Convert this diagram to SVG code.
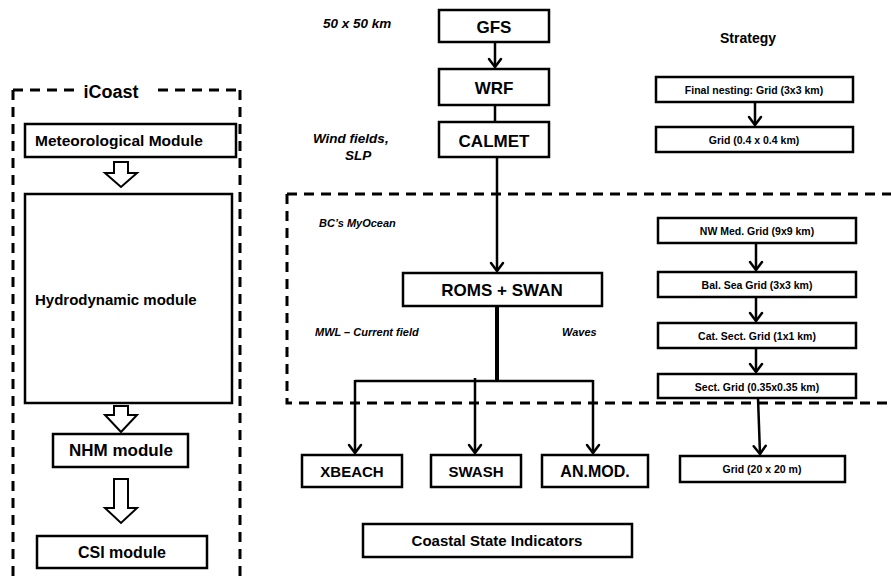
<svg xmlns="http://www.w3.org/2000/svg" width="891" height="582" viewBox="0 0 891 582">
<style>
.box{fill:#fff;stroke:#000;stroke-width:2.5}
.t{font-family:"Liberation Sans",Arial,sans-serif;font-weight:bold;fill:#000}
.c{text-anchor:middle}
.it{font-family:"Liberation Sans",Arial,sans-serif;font-weight:bold;font-style:italic;fill:#000}
.dash{fill:none;stroke:#000;stroke-width:3;stroke-dasharray:10 7}
.con{fill:none;stroke:#000;stroke-width:2.5}
.hol{fill:#fff;stroke:#000;stroke-width:2;stroke-linejoin:miter}
</style>
<defs>
<marker id="arr" viewBox="-11 -8 13 16" refX="0" refY="0" markerWidth="13" markerHeight="16" markerUnits="userSpaceOnUse" orient="auto">
<path d="M-8,-6 L0,0 L-8,6" fill="none" stroke="#000" stroke-width="2.5" stroke-linejoin="round" stroke-linecap="round"/>
</marker>
</defs>

<!-- iCoast frame -->
<g id="icoast-frame">
<path class="dash" d="M13,90 L74,90 M158,90 L240,90 M13,90 L13,582 M240,90 L240,582"/>
<text class="t c" x="111" y="98" font-size="18">iCoast</text>
</g>

<!-- Nesting dashed frame -->
<g id="nesting-frame">
<path class="dash" d="M287,194 L891,194 M287,194 L287,403 L891,403"/>
</g>

<!-- Left column -->
<g id="met-module">
<rect class="box" x="25" y="124" width="211" height="33"/>
<text class="t" x="35" y="146" font-size="15.5">Meteorological Module</text>
</g>
<g id="hydro-module">
<rect class="box" x="25" y="194" width="207" height="209"/>
<text class="t" x="35" y="305" font-size="15">Hydrodynamic module</text>
</g>
<g id="nhm-module">
<rect class="box" x="53" y="434" width="135" height="33"/>
<text class="t c" x="121" y="456" font-size="17">NHM module</text>
</g>
<g id="csi-module">
<rect class="box" x="37" y="536" width="170" height="32"/>
<text class="t c" x="122" y="558" font-size="16">CSI module</text>
</g>

<!-- Middle column -->
<g id="gfs">
<rect class="box" x="439" y="10" width="110" height="32"/>
<text class="t c" x="494" y="33" font-size="17">GFS</text>
</g>
<g id="wrf">
<rect class="box" x="439" y="69" width="110" height="36"/>
<text class="t c" x="494" y="94" font-size="17">WRF</text>
</g>
<g id="calmet">
<rect class="box" x="439" y="122" width="110" height="35"/>
<text class="t c" x="494" y="147" font-size="17">CALMET</text>
</g>
<g id="roms-swan">
<rect class="box" x="403" y="273" width="199" height="33"/>
<text class="t c" x="502" y="296" font-size="17">ROMS + SWAN</text>
</g>
<g id="xbeach">
<rect class="box" x="302" y="455" width="100" height="32"/>
<text class="t c" x="352" y="477" font-size="15">XBEACH</text>
</g>
<g id="swash">
<rect class="box" x="431" y="455" width="90" height="32"/>
<text class="t c" x="476" y="477" font-size="15">SWASH</text>
</g>
<g id="anmod">
<rect class="box" x="542" y="455" width="106" height="32"/>
<text class="t c" x="595" y="477" font-size="16">AN.MOD.</text>
</g>
<g id="csi">
<rect class="box" x="363" y="524" width="269" height="33"/>
<text class="t c" x="497" y="546" font-size="15">Coastal State Indicators</text>
</g>

<!-- Right column -->
<g id="strategy">
<text class="t c" x="748" y="43" font-size="14">Strategy</text>
</g>
<g id="final-nesting">
<rect class="box" x="656" y="77" width="197" height="25"/>
<text class="t c" x="754" y="94" font-size="10.5">Final nesting:  Grid (3x3 km)</text>
</g>
<g id="grid-04">
<rect class="box" x="656" y="127" width="197" height="25"/>
<text class="t c" x="754" y="144" font-size="10.5">Grid (0.4 x 0.4 km)</text>
</g>
<g id="nw-med">
<rect class="box" x="658" y="218" width="198" height="25"/>
<text class="t c" x="757" y="235" font-size="10.5">NW Med. Grid (9x9 km)</text>
</g>
<g id="bal-sea">
<rect class="box" x="658" y="272" width="198" height="25"/>
<text class="t c" x="757" y="289" font-size="10.5">Bal. Sea Grid (3x3 km)</text>
</g>
<g id="cat-sect">
<rect class="box" x="658" y="323" width="198" height="25"/>
<text class="t c" x="757" y="340" font-size="10.5">Cat. Sect. Grid (1x1 km)</text>
</g>
<g id="sect-grid">
<rect class="box" x="658" y="374" width="198" height="24"/>
<text class="t c" x="757" y="391" font-size="10.5">Sect. Grid (0.35x0.35 km)</text>
</g>
<g id="grid-20">
<rect class="box" x="680" y="456" width="165" height="26"/>
<text class="t c" x="762" y="473" font-size="10.5">Grid (20 x 20 m)</text>
</g>

<!-- Labels -->
<g id="labels">
<text class="it" x="323" y="28" font-size="13.5">50 x 50 km</text>
<text class="it" x="313" y="143" font-size="13.5">Wind fields,</text>
<text class="it" x="345" y="160" font-size="13.5">SLP</text>
<text class="it" x="319" y="227" font-size="11">BC’s MyOcean</text>
<text class="it" x="315" y="336" font-size="11">MWL – Current field</text>
<text class="it" x="562" y="336" font-size="11">Waves</text>
</g>

<!-- Connectors -->
<g id="connectors">
<polygon class="hol" points="114,162 128,162 128,173 137,173 121,187 105,173 114,173"/>
<polygon class="hol" points="114,406 128,406 128,415 137,415 121,432 105,415 114,415"/>
<polygon class="hol" points="114,479 128,479 128,508 137,508 121,523 105,508 114,508"/>
<line class="con" x1="495" y1="42" x2="495" y2="67" marker-end="url(#arr)"/>
<line class="con" x1="495" y1="105" x2="495" y2="122"/>
<line class="con" x1="497" y1="157" x2="497" y2="271" marker-end="url(#arr)"/>
<line x1="497" y1="306" x2="497" y2="382" stroke="#000" stroke-width="4"/>
<line class="con" x1="355" y1="381" x2="593" y2="381"/>
<line class="con" x1="355" y1="380" x2="355" y2="453" marker-end="url(#arr)"/>
<line class="con" x1="475" y1="378" x2="475" y2="453" marker-end="url(#arr)"/>
<line class="con" x1="593" y1="380" x2="593" y2="453" marker-end="url(#arr)"/>
<line class="con" x1="755" y1="102" x2="755" y2="125" marker-end="url(#arr)"/>
<line class="con" x1="756" y1="243" x2="756" y2="270" marker-end="url(#arr)"/>
<line class="con" x1="756" y1="297" x2="756" y2="321" marker-end="url(#arr)"/>
<line class="con" x1="756" y1="348" x2="756" y2="372" marker-end="url(#arr)"/>
<line class="con" x1="758" y1="398" x2="760" y2="454" marker-end="url(#arr)"/>
</g>
</svg>
